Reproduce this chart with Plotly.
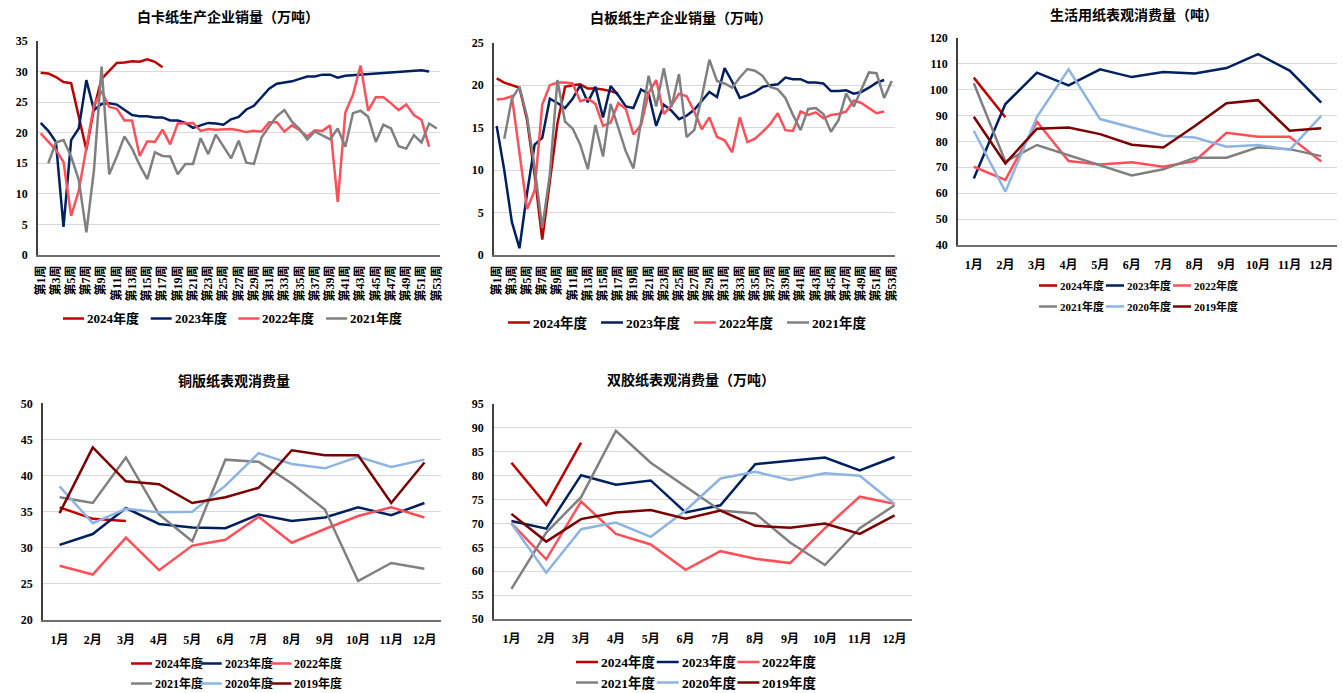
import plotly.graph_objects as go

W, H = 1343, 693

weeks = [f"第{i}周" for i in range(1, 54)]
months = [f"{i}月" for i in range(1, 13)]
week_ticks = weeks[::2]

# 白卡纸生产企业销量（万吨）
wc_2024 = [29.8, 29.7, 29.1, 28.3, 28.1, 22.5, 17.2, 24.0, 28.8, 30.1, 31.4, 31.5, 31.7, 31.6, 32.0, 31.6, 30.7]
wc_2023 = [21.6, 20.3, 18.5, 4.6, 18.8, 20.7, 28.6, 23.7, 24.7, 24.8, 24.6, 23.8, 22.9, 22.7, 22.7, 22.5, 22.5,
           22.0, 22.0, 21.6, 20.8, 21.2, 21.6, 21.5, 21.3, 22.2, 22.6, 23.8, 24.4, 25.8, 27.2, 28.0, 28.2, 28.4,
           28.8, 29.2, 29.2, 29.5, 29.5, 29.0, 29.3, 29.4, 29.5, 29.6, 29.6, 29.7, 29.9, 30.0, 30.1, 30.2, 30.2, 30.0]
wc_2022 = [19.9, 18.5, 17.2, 15.2, 6.4, 10.5, 17.5, 24.5, 26.8, 24.2, 23.9, 22.0, 22.0, 16.2, 18.6, 18.5, 20.5,
           18.1, 21.5, 21.5, 21.6, 20.3, 20.6, 20.5, 20.5, 20.6, 20.4, 20.1, 20.3, 20.2, 21.7, 21.7, 20.2, 21.2,
           20.4, 19.4, 20.4, 20.3, 21.2, 8.7, 23.3, 26.2, 31.0, 23.6, 25.8, 25.8, 24.8, 23.7, 24.6, 22.9, 22.1, 17.7]
wc_2021 = [15.0, 18.4, 18.8, 16.1, 12.3, 3.7, 13.9, 30.8, 13.2, 16.1, 19.4, 17.4, 14.7, 12.4, 16.8, 16.2, 16.1,
           13.2, 14.9, 14.9, 19.1, 16.5, 19.7, 17.7, 15.8, 18.7, 15.1, 14.9, 19.2, 21.0, 22.7, 23.7, 21.8, 20.6,
           18.9, 20.2, 19.6, 18.9, 20.7, 17.7, 23.2, 23.6, 22.6, 18.5, 21.3, 20.7, 17.8, 17.4, 19.6, 18.4, 21.5, 20.7]

# 白板纸生产企业销量（万吨）
wb_2024 = [20.8, 20.3, 20.0, 19.7, 15.9, 9.4, 1.8, 9.0, 15.5, 19.8, 20.0, 20.1, 19.6, 19.6, 19.5, 19.3, 19.0]
wb_2023 = [15.2, 10.0, 3.9, 0.8, 7.3, 13.0, 13.8, 18.4, 17.9, 17.3, 18.4, 20.0, 18.0, 19.8, 16.2, 19.9, 18.8,
           17.5, 17.3, 19.5, 19.0, 15.2, 17.7, 17.0, 16.0, 16.4, 17.1, 18.2, 19.2, 18.6, 22.0, 20.4, 18.5, 18.8,
           19.2, 19.8, 20.0, 20.1, 20.9, 20.7, 20.7, 20.3, 20.3, 20.2, 19.3, 19.3, 19.4, 19.0, 19.2, 19.7, 20.3, 20.6]
wb_2022 = [18.3, 18.4, 18.7, 12.0, 5.4, 7.6, 17.7, 20.0, 20.3, 20.3, 20.2, 18.1, 18.4, 17.8, 15.2, 15.6, 17.9,
           17.2, 14.2, 15.3, 19.1, 20.6, 16.6, 17.6, 19.0, 18.7, 16.9, 14.8, 16.2, 13.9, 13.5, 12.1, 16.2, 13.3,
           13.7, 14.5, 15.4, 16.7, 14.7, 14.6, 16.9, 16.5, 16.8, 16.1, 16.5, 16.6, 16.9, 18.2, 17.9, 17.3, 16.7, 16.9]
wb_2021 = [13.7, 18.4, 19.8, 16.3, 10.3, 3.2, 9.5, 20.6, 15.7, 14.9, 13.0, 10.1, 15.3, 11.6, 17.8, 15.0, 12.2,
           10.2, 15.5, 21.1, 17.5, 22.0, 17.4, 21.3, 13.9, 14.7, 18.6, 23.0, 20.5, 20.2, 19.7, 20.9, 21.9, 21.7,
           21.1, 19.8, 19.5, 18.5, 16.5, 14.7, 17.2, 17.3, 16.6, 14.5, 15.9, 19.0, 17.5, 19.5, 21.5, 21.4, 18.5, 20.5]

# 生活用纸表观消费量（吨）
ts_2024 = [104.6, 89.3]
ts_2023 = [65.7, 94.4, 106.5, 101.6, 107.8, 104.8, 106.8, 106.2, 108.3, 113.7, 107.3, 94.9]
ts_2022 = [70.2, 65.1, 87.6, 72.4, 71.1, 71.9, 70.2, 72.4, 83.3, 81.8, 81.8, 72.2]
ts_2021 = [102.4, 72.2, 78.6, 74.7, 70.6, 66.8, 69.2, 73.7, 73.7, 77.7, 77.0, 74.3]
ts_2020 = [84.1, 60.6, 89.5, 107.8, 88.6, 85.3, 82.2, 81.5, 77.9, 78.6, 76.7, 89.8]
ts_2019 = [89.5, 71.5, 84.9, 85.3, 82.8, 78.7, 77.6, 85.9, 94.7, 95.9, 84.1, 85.1]

# 铜版纸表观消费量
cp_2024 = [35.6, 34.0, 33.7]
cp_2023 = [30.4, 31.9, 35.5, 33.3, 32.8, 32.7, 34.6, 33.7, 34.2, 35.6, 34.5, 36.2]
cp_2022 = [27.5, 26.3, 31.4, 26.9, 30.3, 31.1, 34.3, 30.7, 32.6, 34.4, 35.6, 34.2]
cp_2021 = [37.0, 36.2, 42.5, 34.6, 30.9, 42.2, 41.9, 38.9, 35.3, 25.4, 27.9, 27.1]
cp_2020 = [38.5, 33.4, 35.4, 34.9, 35.0, 38.6, 43.1, 41.6, 41.0, 42.6, 41.2, 42.2]
cp_2019 = [34.8, 43.9, 39.2, 38.8, 36.2, 37.0, 38.3, 43.5, 42.8, 42.8, 36.2, 41.8]

# 双胶纸表观消费量（万吨）
wf_2024 = [82.7, 73.9, 86.9]
wf_2023 = [70.5, 68.9, 80.1, 78.1, 79.0, 72.3, 73.8, 82.4, 83.1, 83.8, 81.1, 83.9]
wf_2022 = [70.0, 62.5, 74.6, 67.8, 65.6, 60.3, 64.2, 62.6, 61.7, 69.0, 75.6, 74.1]
wf_2021 = [56.3, 68.1, 75.5, 89.4, 82.7, 77.7, 72.7, 72.1, 66.0, 61.3, 69.0, 73.8]
wf_2020 = [70.0, 59.7, 68.8, 70.2, 67.2, 72.7, 79.4, 80.8, 79.1, 80.5, 80.0, 74.1]
wf_2019 = [72.0, 66.2, 70.9, 72.3, 72.8, 71.0, 72.7, 69.5, 69.1, 70.0, 67.8, 71.7]

C = {"2024": "#C00000", "2023": "#002060", "2022": "#FF4F58",
     "2021": "#808080", "2020": "#8DB4E2", "2019": "#7B0000"}

SERIF = "Times New Roman, Liberation Serif, Noto Sans CJK SC, serif"
CJK = "Liberation Serif, Noto Sans CJK SC, sans-serif"

fig = go.Figure()


def add(x, y, year, n):
    fig.add_trace(go.Scatter(
        x=x, y=y, mode="lines", name=f"{year}年度",
        line=dict(color=C[year], width=2.5),
        xaxis="x" if n == 1 else f"x{n}", yaxis="y" if n == 1 else f"y{n}",
        showlegend=False, hoverinfo="x+y+name"))


add(weeks[:len(wc_2024)], wc_2024, "2024", 1)
add(weeks[:len(wc_2023)], wc_2023, "2023", 1)
add(weeks[:len(wc_2022)], wc_2022, "2022", 1)
add(weeks[1:1 + len(wc_2021)], wc_2021, "2021", 1)

add(weeks[:len(wb_2024)], wb_2024, "2024", 2)
add(weeks[:len(wb_2023)], wb_2023, "2023", 2)
add(weeks[:len(wb_2022)], wb_2022, "2022", 2)
add(weeks[1:1 + len(wb_2021)], wb_2021, "2021", 2)

for yr, s in [("2024", ts_2024), ("2023", ts_2023), ("2022", ts_2022),
              ("2021", ts_2021), ("2020", ts_2020), ("2019", ts_2019)]:
    add(months[:len(s)], s, yr, 3)
for yr, s in [("2024", cp_2024), ("2023", cp_2023), ("2022", cp_2022),
              ("2021", cp_2021), ("2020", cp_2020), ("2019", cp_2019)]:
    add(months[:len(s)], s, yr, 4)
for yr, s in [("2024", wf_2024), ("2023", wf_2023), ("2022", wf_2022),
              ("2021", wf_2021), ("2020", wf_2020), ("2019", wf_2019)]:
    add(months[:len(s)], s, yr, 5)


def dx(a, b):
    return [a / W, b / W]


def dy(top, bottom):
    return [1 - bottom / H, 1 - top / H]


boxes = {
    1: (38, 440, 41, 255, [0, 35], 5),
    2: (494, 895, 42.7, 255, [0, 25], 5),
    3: (958, 1337, 37.7, 245, [40, 120], 10),
    4: (43, 441, 403.3, 620, [20, 50], 5),
    5: (494, 912, 404, 619, [50, 95], 5),
}

layout = dict(
    width=W, height=H, margin=dict(l=0, r=0, t=0, b=0, autoexpand=False),
    paper_bgcolor="white", plot_bgcolor="white", showlegend=False,
)

for n, (x0, x1, y0, y1, yr, dt) in boxes.items():
    xk = "xaxis" if n == 1 else f"xaxis{n}"
    yk = "yaxis" if n == 1 else f"yaxis{n}"
    xa = dict(domain=dx(x0, x1), anchor="y" if n == 1 else f"y{n}",
              type="category", showgrid=False, zeroline=False, automargin=False,
              showline=True, linecolor="#6E6E6E", linewidth=1.5, ticks="",
              fixedrange=True)
    if n in (1, 2):
        xa.update(categoryorder="array", categoryarray=weeks, range=[-0.35, 52.43],
                  tickmode="array", tickvals=week_ticks, ticktext=week_ticks, tickangle=-90,
                  ticklabelstandoff=4,
                  tickfont=dict(family=CJK, size=12, color="#000000", weight="bold"))
    else:
        xa.update(categoryorder="array", categoryarray=months, range=[-0.5, 11.5],
                  tickmode="array", tickvals=months, ticktext=months, tickangle=0,
                  ticklabelstandoff=8,
                  tickfont=dict(family=CJK, size=12, color="#000000", weight="bold"))
    ya = dict(domain=dy(y0, y1), anchor="x" if n == 1 else f"x{n}", range=yr, dtick=dt,
              tick0=yr[0], showgrid=True, gridcolor="#D9D9D9", gridwidth=1.3, zeroline=False,
              showline=True, linecolor="#404040", linewidth=1.5, ticks="", automargin=False,
              ticklabelstandoff=6,
              tickfont=dict(family=SERIF, size=12, color="#000000", weight="bold"),
              fixedrange=True)
    layout[xk] = xa
    layout[yk] = ya

shapes = []
annotations = []


def legend_row(years, x_start, step, y, line_len, size):
    for i, yr in enumerate(years):
        x0 = x_start + i * step
        shapes.append(dict(type="line", xref="paper", yref="paper",
                           x0=x0 / W, x1=(x0 + line_len) / W, y0=1 - y / H, y1=1 - y / H,
                           line=dict(color=C[yr], width=2.5)))
        annotations.append(dict(text=f"{yr}年度", x=(x0 + line_len + 1) / W, y=1 - y / H,
                                xref="paper", yref="paper", showarrow=False,
                                xanchor="left", yanchor="middle",
                                font=dict(family=CJK, size=size, color="#000000", weight="bold")))


legend_row(["2024", "2023", "2022", "2021"], 63, 87.7, 318.5, 21, 13)
legend_row(["2024", "2023", "2022", "2021"], 508, 93, 322.5, 22, 13.5)
legend_row(["2024", "2023", "2022"], 1039, 67, 285.5, 18, 11)
legend_row(["2021", "2020", "2019"], 1039, 67, 306.5, 18, 11)
legend_row(["2024", "2023", "2022"], 131, 69.7, 663.5, 21, 12)
legend_row(["2021", "2020", "2019"], 131, 69.7, 683.5, 21, 12)
legend_row(["2024", "2023", "2022"], 576, 80.7, 662, 22, 13.5)
legend_row(["2021", "2020", "2019"], 576, 80.7, 682.5, 22, 13.5)

titles = [
    ("白卡纸生产企业销量（万吨）", 228, 17),
    ("白板纸生产企业销量（万吨）", 681, 18),
    ("生活用纸表观消费量（吨）", 1134, 15),
    ("铜版纸表观消费量", 234, 381),
    ("双胶纸表观消费量（万吨）", 691, 380),
]
for t, x, y in titles:
    annotations.append(dict(text=t, x=x / W, y=1 - y / H, xref="paper", yref="paper", showarrow=False,
                            xanchor="center", yanchor="middle",
                            font=dict(family=CJK, size=14, color="#000000", weight="bold")))

layout["shapes"] = shapes
layout["annotations"] = annotations

fig.update_layout(**layout)
fig.write_html("out.html", config={"displayModeBar": False},
               post_script="document.body.style.margin='0px';document.body.style.overflow='hidden';")
